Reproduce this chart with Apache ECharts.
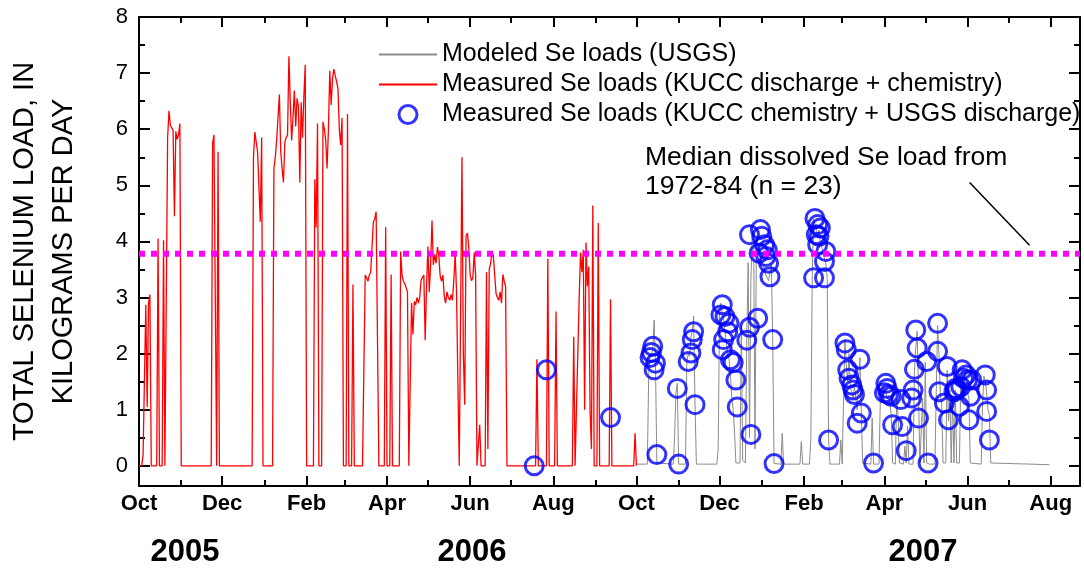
<!DOCTYPE html>
<html>
<head>
<meta charset="utf-8">
<title>Total selenium load</title>
<script src="https://cdn.jsdelivr.net/npm/echarts@6/dist/echarts.min.js"></script>
<style>
  html, body { margin: 0; padding: 0; background: #ffffff; }
  #chart { width: 1084px; height: 571px; }
</style>
</head>
<body>
<div id="chart"></div>
<script>
// Days are counted from 1 October 2005 (start of water year 2006).
const BASE_DATE = Date.UTC(2005, 9, 1);
const DAY_MS = 86400000;

// Measured Se loads, KUCC discharge + chemistry (kg/day)
const measuredDays = [0,2,3,5,6,7,8,9,13,14,15,17,18,19,20,21,22,23,24,25,26,27,28,29,30,31,53,54,55,56,57,58,59,83,84,85,86,87,88,89,90,91,98,99,100,101,102,103,104,105,106,107,108,109,110,111,112,113,114,115,116,117,118,119,120,121,122,123,128,129,130,131,132,134,135,136,137,138,139,140,141,142,143,144,145,146,147,148,149,150,152,153,154,156,157,158,164,165,166,167,168,169,170,171,172,173,174,175,176,180,181,182,184,185,186,191,192,193,194,195,196,197,198,199,200,201,202,203,204,205,206,207,208,209,210,211,212,213,214,215,216,217,218,219,220,221,222,223,224,225,226,227,228,229,230,231,232,233,234,235,236,237,238,239,240,241,242,243,244,245,246,247,248,249,250,251,254,255,256,257,258,259,260,261,262,263,264,265,266,267,268,269,270,291,292,293,299,300,301,305,306,307,318,319,320,321,322,323,324,325,326,327,328,329,330,331,332,333,334,336,337,338,345,346,347,363,364,365];
const measuredLoads = [0,0,0.2,2.87,1.05,2.9,3.05,0,0,4.05,0,0,4.02,0,0,5.85,6.33,6.07,6.05,5.98,4.45,5.96,5.82,5.9,6.1,0,0,5.75,5.9,5.9,0,5.6,0,0,5.5,5.95,5.95,5.6,5.6,4.35,5.85,0,0,5.3,5.5,5.8,6.2,6.62,5.6,5.3,5.05,5.77,5.85,5.9,7.3,6.5,5.8,6.2,6.69,6.05,6.55,6.4,5.05,6.48,5.85,6.6,7.15,0,0,5.11,4.25,6.1,0,0,6.13,6.0,5.8,5.3,6.0,7.04,6.43,6.9,7.07,6.95,6.85,6.73,6.0,5.72,6.2,0,0,6.27,0,0,3.23,0,0,1.7,3.4,3.35,3.29,3.4,3.45,3.45,4.35,4.4,4.53,4.5,0,0,4.25,0,0,3.41,0,0,3.82,3.4,3.29,3.25,3.23,3.1,0,0,2.9,2.34,2.93,2.87,3.0,2.9,3.0,3.31,3.3,3.4,2.24,3.2,3.91,3.1,3.6,4.37,3.58,3.77,3.61,3.9,3.75,3.38,3.29,3.4,3.02,2.9,3.1,3.0,2.95,3.05,2.95,3.3,3.79,3.1,1.5,0,0,5.5,2.0,1.09,4.1,4.15,3.9,3.4,3.3,3.35,3.8,3.4,0,0,0.73,0,0,3.45,0.3,3.5,3.6,3.82,3.75,3.4,3.07,3.0,2.95,3.1,2.9,3.41,3.29,3.2,0,0,1.9,0,0,3.69,0,0,2.75,0,0,2.3,0,0,2.0,3.0,3.8,3.45,3.85,1.0,3.98,3.2,3.55,0.97,0.3,4.64,0,0,4.33,0,0,2.97,0,0,0.58,0];

// Modeled Se loads, USGS (kg/day)
const modeledDays = [365,373,374,375,376,377,378,379,380,392,393,394,395,396,401,402,403,404,405,406,407,408,409,424,425,426,427,428,429,430,431,432,433,434,435,436,437,438,441,442,443,445,446,447,448,449,450,451,452,453,454,456,458,460,462,464,465,466,471,472,473,485,486,487,492,493,494,495,496,497,498,499,500,501,502,503,504,505,506,507,514,515,516,517,518,519,520,521,522,523,524,525,526,527,528,529,530,531,537,538,539,543,544,545,546,547,548,549,550,551,552,553,555,556,557,558,561,562,563,564,565,568,569,570,571,572,573,575,576,577,578,580,584,585,586,587,588,589,590,592,593,594,595,596,597,598,599,600,602,603,604,605,606,607,608,609,610,618,619,620,621,622,623,624,625,668];
const modeledLoads = [0.03,0.03,1.6,2.0,1.95,2.1,2.6,1.8,0.05,0.03,0.5,1.3,1.47,0.03,0.03,1.85,2.0,1.95,2.3,2.4,2.67,1.1,0.03,0.03,0.3,2.7,2.9,2.7,2.6,2.4,2.2,2.0,1.9,1.6,1.2,1.0,0.6,0.05,0.05,2.5,0.1,0.05,2.3,3.62,0.5,3.3,4.15,4.2,0.3,3.9,3.85,3.7,3.6,3.4,3.3,3.6,2.25,0.04,0.03,0.58,0.03,0.03,0.43,0.03,0.03,0.5,3.35,4.4,4.3,4.25,4.1,4.2,3.95,3.9,3.8,3.7,3.6,3.35,0.5,0.03,0.03,0.46,0.03,1.2,2.25,1.8,1.5,2.0,1.4,1.3,1.2,1.4,1.2,1.0,1.5,1.93,1.0,0.05,0.03,0.85,0.03,0.03,1.2,1.4,1.45,1.3,1.35,1.2,1.25,1.1,0.9,0.05,0.03,1.2,0.9,0.05,0.03,0.35,0.05,0.7,0.03,0.03,1.7,2.1,2.4,1.3,0.05,1.2,0.05,1.85,0.05,0.03,0.03,1.3,2.5,2.0,1.3,1.1,0.05,0.05,1.7,0.8,1.35,0.05,1.2,0.05,1.35,0.05,0.05,1.5,1.7,1.3,1.65,1.5,1.3,1.2,0.05,0.03,1.1,1.6,1.5,1.3,1.0,0.9,0.05,0.02];

// Measured Se loads, KUCC chemistry + USGS discharge (kg/day)
const sampleDays = [290,299,346,377,375,376,379,378,380,395,396,407,406,405,403,408,428,427,430,433,432,429,428,434,436,438,439,449,446,448,454,448,456,457,459,461,455,460,462,463,465,466,496,498,500,497,499,498,504,503,495,503,506,518,519,529,520,521,523,524,525,530,527,539,548,549,547,552,559,553,560,563,568,567,572,570,571,569,578,579,550,586,586,593,587,591,594,604,607,608,599,603,598,610,602,609,605,611,600,621,622,622,624];
const sampleLoads = [0,1.71,0.86,2.13,1.93,2.02,1.83,1.71,0.2,1.38,0.03,2.39,2.25,2.01,1.86,1.09,2.87,2.69,2.66,2.54,2.39,2.25,2.07,1.89,1.84,1.53,1.05,0.56,2.24,2.47,2.63,4.12,4.21,4.09,3.94,3.85,3.79,3.73,3.61,3.37,2.25,0.04,4.41,4.3,4.24,4.12,4.09,3.94,3.82,3.64,3.35,3.35,0.46,2.19,2.07,1.9,1.71,1.56,1.44,1.35,1.27,0.94,0.76,0.05,1.47,1.38,1.3,1.24,1.18,0.73,0.7,0.27,1.35,1.21,0.85,2.42,2.1,1.72,1.86,0.05,1.27,2.54,2.04,1.77,1.32,1.12,0.82,1.71,1.62,1.53,1.38,1.41,1.32,1.24,1.06,0.82,1.56,1.53,1.35,1.62,1.35,0.97,0.46];

// Median dissolved Se load, 1972-84 (n = 23)
const MEDIAN_LOAD = 3.78;

const SERIES_NAMES = [
  'Modeled Se loads (USGS)',
  'Measured Se loads (KUCC discharge + chemistry)',
  'Measured Se loads (KUCC chemistry + USGS discharge)'
];
const MONTH_NAMES = ['Jan','Feb','Mar','Apr','May','Jun','Jul','Aug','Sep','Oct','Nov','Dec'];
const YEAR_LABELS = ['2005', '2006', '2007'];
const Y_TITLE = 'TOTAL SELENIUM LOAD, IN\nKILOGRAMS PER DAY';
const MEDIAN_NOTE = 'Median dissolved Se load from\n1972-84 (n = 23)';

// ---- helpers ----
const toTime = d => BASE_DATE + d * DAY_MS;
const pairs = (days, vals) => days.map((d, i) => [toTime(d), vals[i]]);

const X_MIN = toTime(0);
const X_MAX = toTime(690.5);
const Y_MIN = -0.36;
const Y_MAX = 8;

// Month ticks: labelled every second month, minor ticks in between
const xMajor = [], xMinor = [];
for (let i = 0; i <= 22; i++) {
  const t = Date.UTC(2005, 9 + i, 1);
  (i % 2 === 0 ? xMajor : xMinor).push(t);
}
const yMajor = [0, 1, 2, 3, 4, 5, 6, 7, 8];
const yMinor = [0.5, 1.5, 2.5, 3.5, 4.5, 5.5, 6.5, 7.5];

const FONT = '"Liberation Sans", Arial, Helvetica, sans-serif';
const BLACK = '#000000';
const SAMPLE_BLUE = '#0000ff';

function xAxisDef(position, ticks, len, showLine, labels) {
  return {
    type: 'value', gridIndex: 0, position, min: X_MIN, max: X_MAX,
    axisLine: { show: showLine, onZero: false, lineStyle: { color: BLACK, width: 2 } },
    axisTick: { show: true, inside: true, length: len, customValues: ticks,
                lineStyle: { color: BLACK, width: 2 } },
    axisLabel: labels ? {
      show: true, customValues: ticks, margin: 7,
      color: BLACK, fontFamily: FONT, fontSize: 22, fontWeight: 'bold',
      formatter: v => MONTH_NAMES[new Date(v).getUTCMonth()]
    } : { show: false },
    splitLine: { show: false }
  };
}

function yAxisDef(position, ticks, len, showLine, labels) {
  const ax = {
    type: 'value', gridIndex: 0, position, min: Y_MIN, max: Y_MAX,
    axisLine: { show: showLine, onZero: false, lineStyle: { color: BLACK, width: 2 } },
    axisTick: { show: true, inside: true, length: len, customValues: ticks,
                lineStyle: { color: BLACK, width: 2 } },
    axisLabel: labels ? {
      show: true, customValues: ticks, margin: 11,
      color: BLACK, fontFamily: FONT, fontSize: 22,
      formatter: v => String(v)
    } : { show: false },
    splitLine: { show: false }
  };
  if (labels) {
    Object.assign(ax, {
      name: Y_TITLE, nameLocation: 'middle', nameRotate: 90, nameGap: 56,
      nameTextStyle: { color: BLACK, fontFamily: FONT, fontSize: 29, lineHeight: 39 }
    });
  }
  return ax;
}

const chart = echarts.init(document.getElementById('chart'), null, { renderer: 'canvas' });

// the two line entries show only their stroke in the legend, no marker dot;
// the sample entry is an open ring like the plotted samples
const legendEntries = [
  { name: SERIES_NAMES[0], itemStyle: { opacity: 0 } },
  { name: SERIES_NAMES[1], itemStyle: { opacity: 0 } },
  { name: SERIES_NAMES[2], icon: 'circle',
    itemStyle: { color: 'rgba(0,0,0,0)', borderColor: SAMPLE_BLUE, borderWidth: 3 } }
];

chart.setOption({
  animation: false,
  backgroundColor: '#ffffff',
  grid: { left: 139, right: 4, top: 17, bottom: 85, containLabel: false, outerBoundsMode: 'none' },
  legend: {
    orient: 'vertical', left: 373, top: 37, padding: 5,
    itemWidth: 58, itemHeight: 18, itemGap: 5,
    data: legendEntries,
    textStyle: { color: BLACK, fontFamily: FONT, fontSize: 25 },
    selectedMode: false
  },
  xAxis: [
    xAxisDef('bottom', xMajor, 10, true, true),
    xAxisDef('bottom', xMinor, 6, false, false),
    xAxisDef('top', xMajor, 10, true, false),
    xAxisDef('top', xMinor, 6, false, false)
  ],
  yAxis: [
    yAxisDef('left', yMajor, 11, true, true),
    yAxisDef('left', yMinor, 6, false, false),
    yAxisDef('right', yMajor, 11, true, false),
    yAxisDef('right', yMinor, 6, false, false)
  ],
  graphic: [
    {
      type: 'text', x: 645, y: 143, z: 10,
      style: { text: MEDIAN_NOTE, fill: BLACK, font: '26.5px ' + FONT, lineHeight: 29 }
    },
    ...YEAR_LABELS.map((label, i) => ({
      type: 'text', x: [185, 472, 923][i], y: 552, z: 10,
      style: { text: label, fill: BLACK, font: 'bold 31px ' + FONT,
               align: 'center', verticalAlign: 'middle' }
    }))
  ],
  series: [
    {
      name: SERIES_NAMES[0], type: 'line', xAxisIndex: 0, yAxisIndex: 0,
      data: pairs(modeledDays, modeledLoads),
      symbol: 'none', showSymbol: false, color: '#8c8c8c',
      lineStyle: { color: '#8c8c8c', width: 1 }, z: 2
    },
    {
      name: SERIES_NAMES[1], type: 'line', xAxisIndex: 0, yAxisIndex: 0,
      data: pairs(measuredDays, measuredLoads),
      symbol: 'none', showSymbol: false, color: '#ff0000',
      lineStyle: { color: '#ff0000', width: 1.3 }, z: 3
    },
    {
      name: SERIES_NAMES[2], type: 'scatter', xAxisIndex: 0, yAxisIndex: 0,
      data: pairs(sampleDays, sampleLoads),
      symbol: 'circle', symbolSize: 18,
      itemStyle: { color: 'rgba(0,0,0,0)', borderColor: SAMPLE_BLUE, borderWidth: 3 },
      z: 4
    },
    {
      name: 'median', type: 'line', xAxisIndex: 0, yAxisIndex: 0,
      data: [[X_MIN, MEDIAN_LOAD], [X_MAX, MEDIAN_LOAD]],
      symbol: 'none', silent: true,
      lineStyle: { color: '#ff00ff', width: 6, type: [6, 6] },
      z: 5,
      markLine: {
        silent: true, symbol: 'none', label: { show: false },
        lineStyle: { color: BLACK, width: 1.5, type: 'solid' },
        data: [[
          { coord: [toTime(609.5), 5.05] },
          { coord: [toTime(653.5), 3.93] }
        ]]
      }
    }
  ]
});
</script>
</body>
</html>
